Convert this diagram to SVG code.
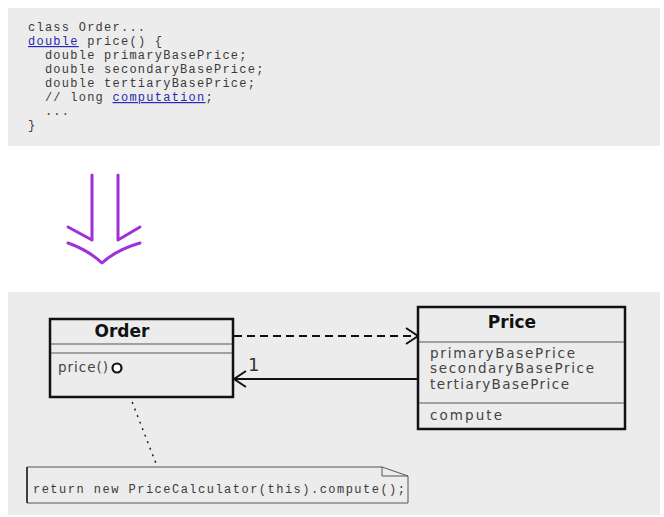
<svg xmlns="http://www.w3.org/2000/svg" width="664" height="517" viewBox="0 0 664 517">
<style>
.code{font-family:"Liberation Mono","DejaVu Sans Mono",monospace;font-size:12px;letter-spacing:1.25px;fill:#3a3a3a;white-space:pre}
.link{fill:#2a2ab0;text-decoration:underline}
.box{fill:#ececec;stroke:#111;stroke-width:2.5}
.div{stroke:#555;stroke-width:1.2}
.title{font-family:"DejaVu Sans","Noto Sans",sans-serif;font-size:17px;font-weight:bold;fill:#111;text-anchor:middle}
.attr{font-family:"DejaVu Sans","Noto Sans",sans-serif;font-size:13.5px;fill:#444}
.purple{fill:none;stroke:#a030d8;stroke-width:3;stroke-linecap:round;stroke-linejoin:round}
</style>
<defs>
<marker id="open" markerWidth="14" markerHeight="18" refX="13" refY="9" orient="auto" markerUnits="userSpaceOnUse">
<path d="M1,1 L13,9 L1,17" fill="none" stroke="#111" stroke-width="2"/>
</marker>
</defs>
<rect width="664" height="517" fill="#fff"/>
<rect x="8" y="8" width="652" height="138" fill="#ececec"/>
<g id="code" xml:space="preserve">
<text class="code" x="28" y="31">class Order...</text>
<text class="code" x="28" y="45"><tspan class="link">double</tspan> price() {</text>
<text class="code" x="28" y="59">  double primaryBasePrice;</text>
<text class="code" x="28" y="73">  double secondaryBasePrice;</text>
<text class="code" x="28" y="87">  double tertiaryBasePrice;</text>
<text class="code" x="28" y="101">  // long <tspan class="link">computation</tspan>;</text>
<text class="code" x="28" y="115">  ...</text>
<text class="code" x="28" y="129">}</text>
</g>
<g id="refactor-arrow">
<path class="purple" d="M92,175 L92,240 L68,227"/>
<path class="purple" d="M118,175 L118,240 L140,227"/>
<path class="purple" d="M68,243 Q88,250 102,263 Q116,250 140,243"/>
</g>
<rect x="8" y="292" width="652" height="223" fill="#ececec"/>
<g id="connectors">
<line x1="234" y1="336" x2="418" y2="336" stroke="#111" stroke-width="2" stroke-dasharray="8,5" marker-end="url(#open)"/>
<line x1="418" y1="379" x2="234" y2="379" stroke="#111" stroke-width="2" marker-end="url(#open)"/>
<text x="248" y="371" font-family="DejaVu Sans,sans-serif" font-size="18" fill="#333">1</text>
<line x1="122" y1="376" x2="157" y2="466" stroke="#222" stroke-width="1.5" stroke-dasharray="2,5"/>
</g>
<g id="order">
<rect class="box" x="50" y="319" width="183" height="78"/>
<line class="div" x1="51" y1="344" x2="232" y2="344"/>
<line class="div" x1="51" y1="353" x2="232" y2="353"/>
<text class="title" x="122" y="337">Order</text>
<text class="attr" x="58" y="372" font-size="14" textLength="50">price()</text>
<circle cx="117" cy="368" r="4.5" fill="#fff" stroke="#111" stroke-width="2.2"/>
</g>
<g id="price">
<rect class="box" x="418" y="307" width="207" height="122"/>
<line class="div" x1="419" y1="342" x2="624" y2="342"/>
<line class="div" x1="419" y1="403" x2="624" y2="403"/>
<text class="title" x="512" y="328">Price</text>
<text class="attr" x="430" y="357.5" textLength="145">primaryBasePrice</text>
<text class="attr" x="430" y="373.3" textLength="164">secondaryBasePrice</text>
<text class="attr" x="430" y="389.1" textLength="139">tertiaryBasePrice</text>
<text class="attr" x="430" y="420" textLength="72">compute</text>
</g>
<g id="note">
<path d="M27,467 L382,467 L408,476 L408,503 L27,503 Z" fill="#ececec" stroke="#555" stroke-width="1"/>
<line x1="27" y1="467" x2="27" y2="503" stroke="#222" stroke-width="1.5"/>
<path d="M382,467 L382,476 L408,476" fill="none" stroke="#555" stroke-width="1"/>
<text class="code" x="33" y="493" style="letter-spacing:0" font-size="12.5" textLength="372">return new PriceCalculator(this).compute();</text>
</g>
</svg>
